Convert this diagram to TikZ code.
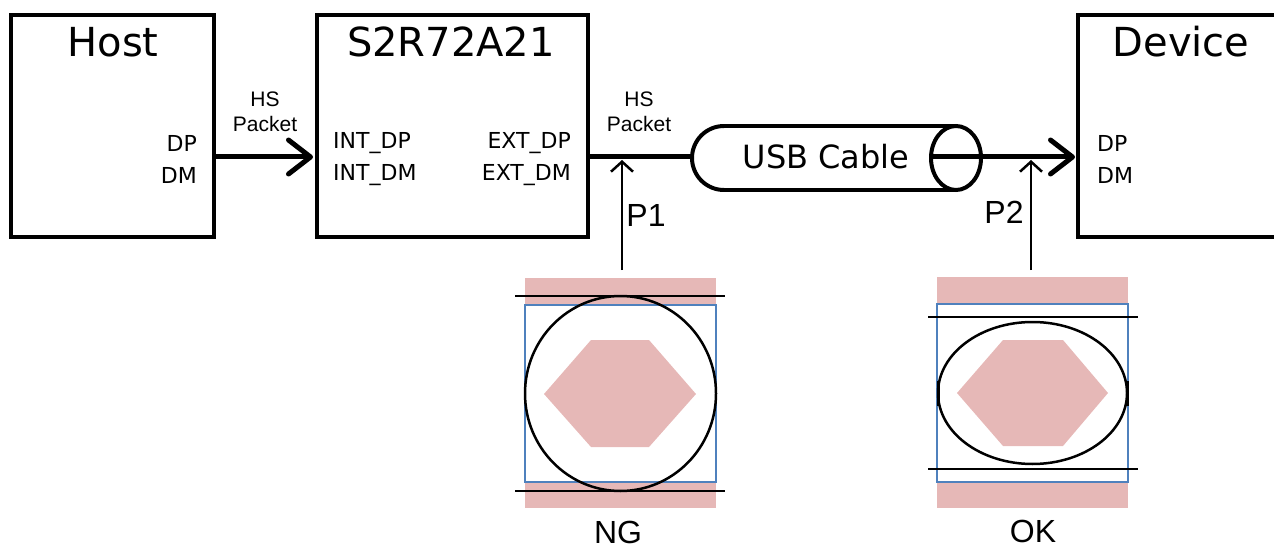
\documentclass[tikz,border=0pt]{standalone}
\usepackage{fontspec}
\setmainfont{DejaVu Sans}
\newfontfamily\arialfont{Liberation Sans}
\usetikzlibrary{arrows.meta,positioning,calc}

\definecolor{eyepink}{HTML}{E6B8B7}
\definecolor{eyeblue}{HTML}{4F81BD}

\tikzset{
  block/.style={draw, line width=4pt, inner sep=0pt},
  title/.style={font=\fontsize{40}{44}\selectfont, inner sep=0pt},
  port/.style={font=\fontsize{22}{26}\selectfont, inner sep=0pt},
  packet/.style={font=\arialfont\fontsize{21}{25}\selectfont, align=center, inner sep=0pt},
  probe/.style={font=\arialfont\fontsize{32}{36}\selectfont, inner sep=0pt},
  bus/.style={line width=5pt},
  busarrow/.style={bus, -{Straight Barb[length=22pt, width=34pt, line cap=round, line join=round]}},
  probearrow/.style={line width=2.5pt, -{Straight Barb[length=10pt, width=22pt]}},
  eyeline/.style={line width=2pt},
}

\begin{document}
\begin{tikzpicture}[x=1pt, y=-1pt]
    \useasboundingbox (0,0) rectangle (1274,548);

    % Blocks
    \node[block, minimum width=203pt, minimum height=222pt] (host) at (112.5,126) {};
    \node[block, minimum width=271pt, minimum height=222pt] (s2r) at (452.5,126) {};
    \node[block, minimum width=260pt, minimum height=222pt] (device) at (1208,126) {};
    \node[title] (hosttitle) at (113,42) {Host};
    \node[title] (s2rtitle) at (451,42) {S2R72A21};
    \node[title] (devtitle) at (1181,42) {Device};

    % Port labels
    \node[port, anchor=east] (hostdp) at (197,143) {DP};
    \node[port, anchor=east] (hostdm) at (197,175) {DM};
    \node[port, anchor=west] (intdp) at (333,143) {INT\_DP};
    \node[port, anchor=west] (intdm) at (333,175) {INT\_DM};
    \node[port, anchor=east] (extdp) at (571,143) {EXT\_DP};
    \node[port, anchor=east] (extdm) at (571,175) {EXT\_DM};
    \node[port, anchor=west] (devdp) at (1097,143) {DP};
    \node[port, anchor=west] (devdm) at (1097,175) {DM};

    % Connection points
    \coordinate (hostout) at (214,157);
    \coordinate (s2rin) at (313,157);
    \coordinate (s2rout) at (589,157);
    \coordinate (cablein) at (692,157);
    \coordinate (cableout) at (931,157);
    \coordinate (devin) at (1075,157);
    \coordinate (tap1) at (622,160);
    \coordinate (tap2) at (1031,160);
    \coordinate (probe1) at (622,270);
    \coordinate (probe2) at (1031,270);

    % Host -> S2R72A21
    \draw[busarrow] (hostout) -- (s2rin);
    \node[packet] (packet1) at (265,112) {HS\\Packet};

    % S2R72A21 -> cable
    \draw[bus] (s2rout) -- (cablein);
    \node[packet] (packet2) at (639,112) {HS\\Packet};

    % USB cable
    \node[font=\fontsize{32}{36}\selectfont, inner sep=0pt] (cable) at (826,157) {USB Cable};
    \draw[line width=4pt] (724,126) -- (958,126);
    \draw[line width=4pt] (724,190) -- (958,190);
    \draw[line width=4pt] (724,126) arc[start angle=-90, end angle=-270, radius=32];
    \draw[line width=4pt] (956,158) ellipse[x radius=25, y radius=32];

    % Cable -> Device
    \draw[busarrow] (cableout) -- (devin);

    % Probe points
    \draw[probearrow] (probe1) -- (tap1);
    \node[probe] (p1) at (646,215) {P1};
    \draw[probearrow] (probe2) -- (tap2);
    \node[probe] (p2) at (1004,212) {P2};

    % Eye NG
    \fill[eyepink] (525,278) rectangle (716,305);
    \fill[eyepink] (525,482) rectangle (716,508);
    \draw[eyeblue, line width=1.5pt] (525,305) rectangle (716,482);
    \fill[eyepink] (591,340) -- (649,340) -- (696,394) -- (649,447) -- (591,447) -- (544,394) -- cycle;
    \draw[line width=2.5pt] (620.5,393.5) ellipse[x radius=95.5, y radius=97.5];
    \draw[eyeline] (515,296) -- (725,296);
    \draw[eyeline] (515,491) -- (725,491);
    \node[probe] (ng) at (618,532) {NG};

    % Eye OK
    \fill[eyepink] (937,277) rectangle (1128,304);
    \fill[eyepink] (937,482) rectangle (1128,508);
    \draw[eyeblue, line width=1.5pt] (937,304) rectangle (1128,482);
    \fill[eyepink] (1003,340) -- (1063,340) -- (1108,393) -- (1063,446) -- (1003,446) -- (957,393) -- cycle;
    \draw[line width=2.5pt] (1032.5,393) ellipse[x radius=94.5, y radius=71];
    \draw[line width=3pt] (938,381) -- (938,406);
    \draw[line width=3pt] (1127,381) -- (1127,406);
    \draw[eyeline] (928,317) -- (1138,317);
    \draw[eyeline] (928,469) -- (1138,469);
    \node[probe] (ok) at (1033,531) {OK};
\end{tikzpicture}
\end{document}
